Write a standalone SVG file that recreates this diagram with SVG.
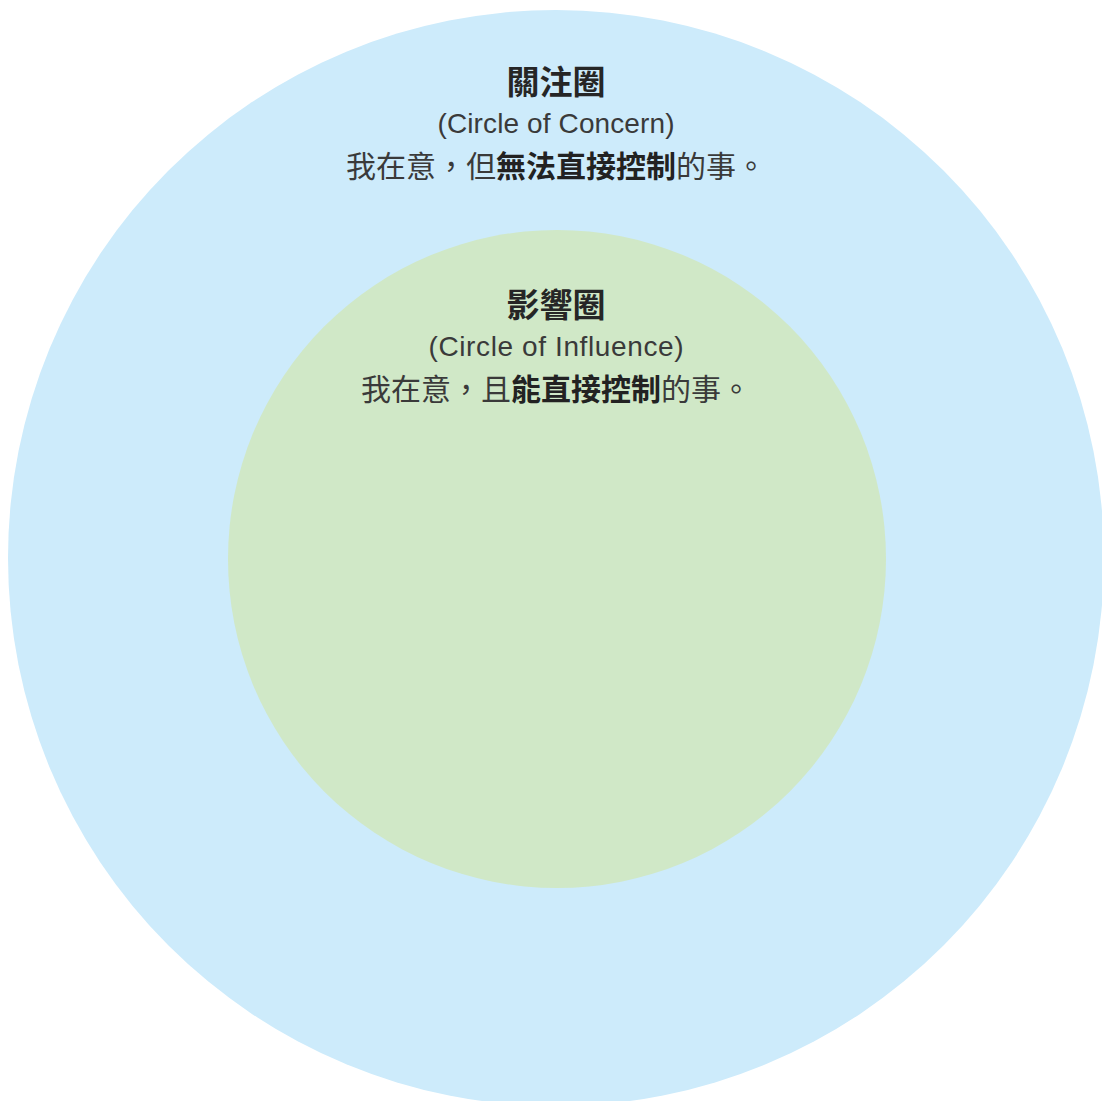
<svg xmlns="http://www.w3.org/2000/svg" width="1102" height="1101" viewBox="0 0 1102 1101">
<style>
.t{font-family:"Noto Sans CJK TC","Noto Sans CJK SC",sans-serif;fill:#3a3a3a;text-anchor:middle}
.h{font-size:33px;font-weight:700;fill:#262626}
.en{font-family:"Liberation Sans","Noto Sans",sans-serif;font-size:28px;fill:#3a3a3a;text-anchor:middle}
.d{font-size:30px}
.b{font-weight:700;fill:#222}
</style>
<rect width="1102" height="1101" fill="#ffffff"/>
<g id="concern">
<circle cx="556" cy="558" r="548" fill="#cdebfb"/>
<text class="t h" x="556" y="94">關注圈</text>
<text class="en" x="556" y="133" textLength="237" lengthAdjust="spacing">(Circle of Concern)</text>
<text class="t d" x="556" y="177">我在意，但<tspan class="b">無法直接控制</tspan>的事。</text>
</g>
<g id="influence">
<circle cx="557" cy="559" r="329" fill="#d0e8c7"/>
<text class="t h" x="556" y="317">影響圈</text>
<text class="en" x="556" y="356" textLength="255" lengthAdjust="spacing">(Circle of Influence)</text>
<text class="t d" x="556" y="400">我在意，且<tspan class="b">能直接控制</tspan>的事。</text>
</g>
<g id="connectors"></g>
</svg>
